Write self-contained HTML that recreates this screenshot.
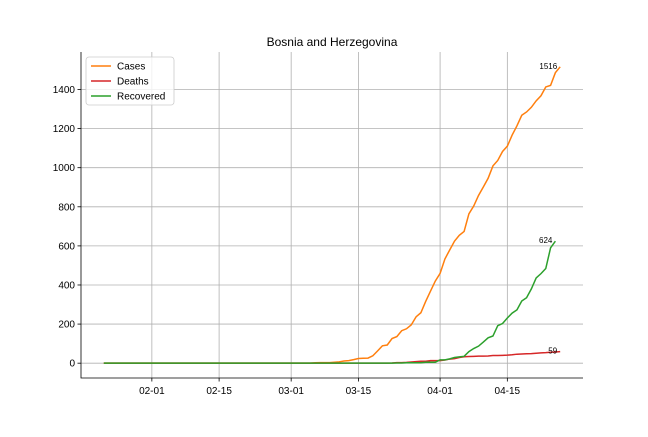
<!DOCTYPE html>
<html><head><meta charset="utf-8"><style>
body{margin:0;background:#fff}
svg{font-family:"Liberation Sans","DejaVu Sans",sans-serif}
</style></head><body>
<svg id="chart" width="648" height="432"></svg>
<script>
const startDate = "2020-01-22";
const cases = [0,0,0,0,0,0,0,0,0,0,0,0,0,0,0,0,0,0,0,0,0,0,0,0,0,0,0,0,0,0,0,0,0,0,0,0,0,0,0,0,0,0,0,0,2,3,3,3,5,7,11,13,18,24,25,26,38,63,89,93,126,136,166,176,196,237,258,316,368,420,459,533,579,624,654,674,764,804,858,901,946,1009,1037,1083,1110,1167,1214,1268,1285,1309,1342,1368,1413,1421,1486,1516];
const deaths = [0,0,0,0,0,0,0,0,0,0,0,0,0,0,0,0,0,0,0,0,0,0,0,0,0,0,0,0,0,0,0,0,0,0,0,0,0,0,0,0,0,0,0,0,0,0,0,0,0,0,0,0,0,0,0,0,0,0,0,0,1,3,3,4,6,8,10,10,13,13,13,16,21,23,29,33,34,35,36,36,37,39,39,40,41,43,46,47,48,49,51,53,54,56,57,59];
const recovered = [0,0,0,0,0,0,0,0,0,0,0,0,0,0,0,0,0,0,0,0,0,0,0,0,0,0,0,0,0,0,0,0,0,0,0,0,0,0,0,0,0,0,0,0,0,0,0,0,0,0,0,0,0,0,0,0,0,0,0,0,0,1,1,2,2,2,2,5,5,5,17,17,22,29,32,35,59,75,87,108,130,139,192,203,231,256,273,318,335,380,436,458,484,590,624];
const yTicks = [0,200,400,600,800,1000,1200,1400];
const xTickLabels = ["02-01","02-15","03-01","03-15","04-01","04-15"];
const xTickDays = [10,24,39,53,70,84];

const svg=document.getElementById('chart');
const NS="http://www.w3.org/2000/svg";
const L=81,R=583,T=52,B=378;
const n=Math.max(cases.length,deaths.length,recovered.length);
const span=n-1, xmin=-span*0.05, xmax=span*1.05;
const ymax=Math.max(...cases), yminv=-ymax*0.05, ymaxv=ymax*1.05;
const xs=d=>L+(d-xmin)/(xmax-xmin)*(R-L);
const ys=v=>B-(v-yminv)/(ymaxv-yminv)*(B-T);
function el(t,a,p){const e=document.createElementNS(NS,t);for(const k in a)e.setAttribute(k,a[k]);(p||svg).appendChild(e);return e;}

xTickDays.forEach((d,i)=>{
  const x=xs(d);
  const g=el('line',{x1:x,x2:x,y1:T,y2:B,stroke:'#b0b0b0','stroke-width':0.8});
  
  
  el('line',{x1:x,x2:x,y1:B,y2:B+3.5,stroke:'#000','stroke-width':0.8});
  const t=el('text',{x:x,y:B+16,'font-size':10,'text-anchor':'middle'});
  t.textContent=xTickLabels[i];
  
  
});
yTicks.forEach(v=>{
  const y=ys(v);
  const g=el('line',{x1:L,x2:R,y1:y,y2:y,stroke:'#b0b0b0','stroke-width':0.8});
  
  
  el('line',{x1:L-3.5,x2:L,y1:y,y2:y,stroke:'#000','stroke-width':0.8});
  const t=el('text',{x:L-6,y:y+3.5,'font-size':10,'text-anchor':'end'});
  t.textContent=v;
  
  
});
const ax=el('path',{d:`M${L},${T}V${B}H${R}`,fill:'none',stroke:'#000','stroke-width':0.8});



const series=[[cases,'#ff7f0e','cases-line'],[deaths,'#d62728','deaths-line'],[recovered,'#2ca02c','recovered-line']];
series.forEach(([arr,c,name])=>{
  const p=el('polyline',{points:arr.map((v,i)=>xs(i)+','+ys(v)).join(' '),fill:'none',stroke:c,'stroke-width':1.5});
  
  
  const last=arr.length-1;
  const t=el('text',{x:xs(last)-3,y:ys(arr[last])+2,'font-size':8,'text-anchor':'end'});
  t.textContent=arr[last];
  
  
});

const title=el('text',{x:(L+R)/2,y:46,'font-size':12,'text-anchor':'middle'});
title.textContent='Bosnia and Herzegovina';



const lg=el('g',{});


el('rect',{x:86,y:57,width:88,height:48,rx:3,fill:'#fff','fill-opacity':0.8,stroke:'#ccc','stroke-width':0.8},lg);
[['Cases','#ff7f0e'],['Deaths','#d62728'],['Recovered','#2ca02c']].forEach(([lab,c],i)=>{
  const y=66+i*15;
  const ln=el('line',{x1:91,x2:111,y1:y,y2:y,stroke:c,'stroke-width':1.5},lg);
  
  
  const t=el('text',{x:117,y:y+3.5,'font-size':10},lg);
  t.textContent=lab;
  
  
});
</script>
</body></html>
